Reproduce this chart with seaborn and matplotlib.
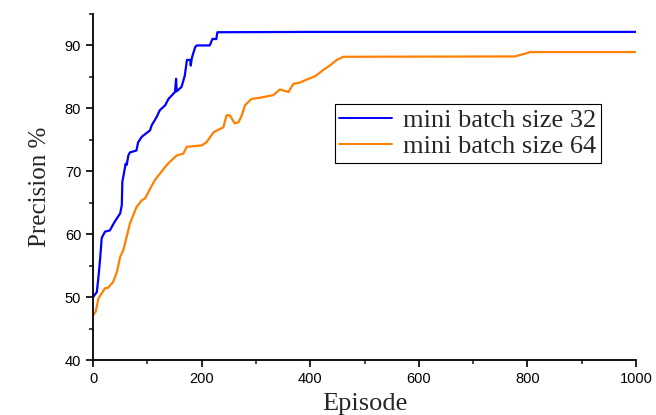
import numpy as np
import pandas as pd
import matplotlib
matplotlib.use("Agg")
import matplotlib.pyplot as plt
import seaborn as sns
from matplotlib.ticker import MultipleLocator

episodes_32 = [0, 7, 10, 13, 16, 22, 31, 40, 50, 53, 54, 58, 60, 62, 65, 68, 80, 83, 90,
               105, 108, 117, 123, 133, 139, 151, 153, 154, 163, 169, 173, 179, 180, 182,
               188, 191, 215, 220, 227, 229, 400, 1000]
precision_32 = [50.0, 50.8, 53.2, 56.0, 59.4, 60.4, 60.6, 62.0, 63.3, 64.6, 68.3, 70.2, 71.2,
                71.0, 72.5, 73.0, 73.3, 74.6, 75.5, 76.5, 77.3, 78.6, 79.7, 80.5, 81.5, 82.6,
                84.7, 82.7, 83.4, 85.2, 87.7, 87.7, 86.8, 88.0, 89.7, 90.0, 90.0, 91.05, 91.0,
                92.1, 92.15, 92.15]

episodes_64 = [0, 5, 10, 16, 22, 28, 37, 44, 50, 56, 62, 68, 74, 80, 90, 96, 105, 114, 123,
               133, 139, 154, 166, 173, 200, 209, 222, 240, 246, 252, 261, 268, 274, 280, 292,
               308, 332, 344, 360, 369, 381, 394, 409, 424, 436, 449, 461, 777, 796, 805, 1000]
precision_64 = [47.1, 47.7, 49.8, 50.6, 51.4, 51.5, 52.4, 54.0, 56.4, 57.5, 59.6, 61.7, 63.0,
                64.3, 65.4, 65.7, 67.2, 68.6, 69.6, 70.7, 71.3, 72.5, 72.8, 73.9, 74.1, 74.6,
                76.2, 77.0, 78.9, 78.9, 77.6, 77.8, 78.9, 80.5, 81.5, 81.7, 82.1, 83.0, 82.6,
                83.9, 84.1, 84.6, 85.1, 86.1, 86.8, 87.7, 88.2, 88.25, 88.7, 88.95, 88.95]

series_labels = ["mini batch size 32", "mini batch size 64"]
x_ticks = [0, 200, 400, 600, 800, 1000]
y_ticks = [40, 50, 60, 70, 80, 90]

df = pd.concat([
    pd.DataFrame({"Episode": episodes_32, "Precision": precision_32, "series": series_labels[0]}),
    pd.DataFrame({"Episode": episodes_64, "Precision": precision_64, "series": series_labels[1]}),
])

sns.set_style("ticks")
plt.rcParams["font.family"] = ["Liberation Sans", "DejaVu Sans"]

fig = plt.figure(figsize=(6.56, 4.15), dpi=100)
ax = fig.add_axes([0.1418, 0.1325, 0.8277, 0.8338])

sns.lineplot(data=df, x="Episode", y="Precision", hue="series",
             palette=["#0000FF", "#FF8000"], linewidth=1.6, ax=ax,
             estimator=None, sort=False)

ax.set_xlim(0, 1000)
ax.set_ylim(40, 95)
ax.set_xticks(x_ticks)
ax.set_yticks(y_ticks)
ax.xaxis.set_minor_locator(MultipleLocator(100))
ax.yaxis.set_minor_locator(MultipleLocator(5))
ax.tick_params(axis="both", which="major", direction="out", length=5, width=1.2,
               labelsize=10.5, colors="black")
ax.tick_params(axis="both", which="minor", direction="out", length=3, width=1.2)
for s in ["top", "right"]:
    ax.spines[s].set_visible(False)
for s in ["left", "bottom"]:
    ax.spines[s].set_linewidth(1.3)
    ax.spines[s].set_color("black")

ax.set_xlabel("Episode", fontfamily="Liberation Serif", fontsize=19, labelpad=5)
ax.set_ylabel("Precision %", fontfamily="Liberation Serif", fontsize=18, labelpad=10)

leg = ax.legend(loc="upper left", bbox_to_anchor=(0.445, 0.74), borderaxespad=0,
                fancybox=False, edgecolor="black", framealpha=1,
                prop={"family": "Liberation Serif", "size": 19},
                handlelength=2.0, handletextpad=0.4, borderpad=0.18, labelspacing=0.1)
leg.get_frame().set_linewidth(0.8)
for line in leg.get_lines():
    line.set_linewidth(1.4)

fig.savefig("out.png", dpi=100)
